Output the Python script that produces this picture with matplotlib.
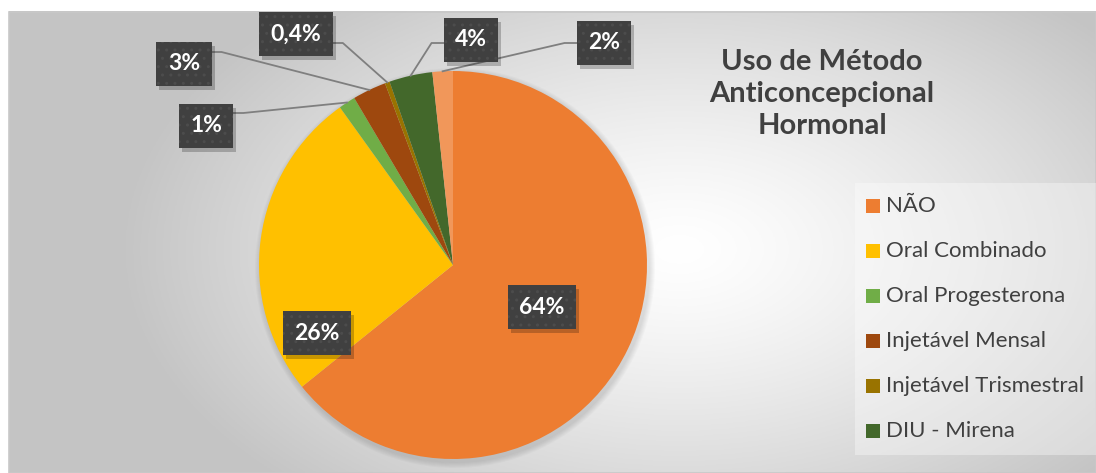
import numpy as np
import matplotlib.pyplot as plt
from matplotlib.patches import Rectangle
from matplotlib.lines import Line2D

W, H = 1096, 473

categories = ["NÃO", "Oral Combinado", "Oral Progesterona", "Injetável Mensal",
              "Injetável Trismestral", "DIU - Mirena", "Outro"]
values = [64.2, 25.9, 1.4, 2.8, 0.4, 3.6, 1.7]
pct_labels = ["64%", "26%", "1%", "3%", "0,4%", "4%", "2%"]
colors = ["#ED7D31", "#FFC000", "#70AD47", "#9E480E", "#997300", "#43682B", "#F1975A"]
title = "Uso de Método\nAnticoncepcional\nHormonal"

# label box centres in pixels from the top-left, leader side and leader height
label_pos = [(542, 307), (317, 333), (206, 126), (184, 64), (296, 34), (471, 40), (604, 43)]
leader_side = [None, None, "right", "right", "right", "left", "left"]
leader_y = [None, None, 113, 52, 43, 43, 43]

plt.rcParams["font.family"] = ["Lato", "DejaVu Sans"]

fig = plt.figure(figsize=(W / 100, H / 100), dpi=100)
ax = fig.add_axes([0, 0, 1, 1])


def py(y):
    return H - y


# radial gradient background of the chart area
x0, x1, y0, y1 = 9, W, 12, H
xx, yy = np.meshgrid(np.linspace(x0, x1, 400), np.linspace(y0, y1, 200))
d = np.sqrt(((xx - 680) / 560) ** 2 + ((yy - 250) / 330) ** 2)
d = np.clip(d, 0, 1)
shade = 1.0 - 0.23 * d ** 1.3
img = np.dstack([shade, shade, shade])
ax.imshow(img, extent=(x0, x1, py(y1), py(y0)), origin="upper", aspect="auto", zorder=0)
ax.add_patch(Rectangle((x0, py(y1)), x1 - x0, y1 - y0, fill=False, ec="#C8C8C8", lw=1.2, zorder=1))

# legend panel
ax.add_patch(Rectangle((855, py(455)), W - 855, 455 - 183, fc="white", alpha=0.35, ec="none", zorder=1))

cx, cy, r = 453, 265, 194
# soft shadow under pie
for k in range(6):
    ax.add_patch(plt.Circle((cx + 2, py(cy) - 3), r + 6 - k, fc="#000000", alpha=0.02, ec="none", zorder=1.5))

wedges, _ = ax.pie(values, colors=colors, startangle=90, counterclock=False,
                   center=(cx, py(cy)), radius=r, wedgeprops=dict(lw=0),
                   frame=True)
for w in wedges:
    w.set_zorder(2)

ax.set_xlim(0, W)
ax.set_ylim(0, H)
ax.set_aspect("auto")
ax.axis("off")

texts = []
for i, w in enumerate(wedges):
    lx, ly = label_pos[i]
    t = ax.text(lx, py(ly), pct_labels[i], ha="center", va="center", fontsize=16.5,
                fontweight="bold", color="white", zorder=6,
                bbox=dict(boxstyle="square,pad=0.5", fc="#404040", ec="#4C4C4C",
                          hatch="..", lw=0))
    texts.append(t)

ax.text(822, py(94), title, ha="center", va="center", fontsize=21, fontweight="bold",
        color="#404040", linespacing=1.3, zorder=6)

# legend
for i in range(6):
    yy_ = py(206 + i * 45)
    ax.add_patch(Rectangle((866, yy_ - 7), 14, 14, fc=colors[i], ec="none", zorder=6))
    ax.text(886, yy_, categories[i], ha="left", va="center", fontsize=16,
            color="#404040", zorder=6)

# shadows and leader lines from the rendered label boxes
fig.canvas.draw()
inv = ax.transData.inverted()
for i, w in enumerate(wedges):
    bb = texts[i].get_bbox_patch().get_window_extent()
    (bx0, by0), (bx1, by1) = inv.transform([[bb.x0, bb.y0], [bb.x1, bb.y1]])
    ax.add_patch(Rectangle((bx0 + 3, by0 - 4), bx1 - bx0, by1 - by0, fc="black",
                           alpha=0.22, ec="none", zorder=5))
    side = leader_side[i]
    if side is None:
        continue
    ang = np.deg2rad((w.theta1 + w.theta2) / 2)
    ex, ey = cx + r * np.cos(ang), py(cy) + r * np.sin(ang)
    ay = py(leader_y[i])
    if side == "right":
        bx, kx = bx1, bx1 + 10
    else:
        bx, kx = bx0, bx0 - 12
    ax.add_line(Line2D([bx, kx, ex], [ay, ay, ey], color="#7F7F7F", lw=1.3, zorder=4))

fig.savefig("out.png", dpi=100)
